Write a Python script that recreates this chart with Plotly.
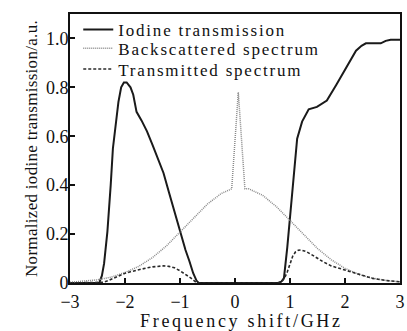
import plotly.graph_objects as go

# Iodine transmission (solid)
iod_x = [-3.0, -2.6, -2.47, -2.42, -2.38, -2.32, -2.28, -2.26, -2.22, -2.17, -2.12, -2.07, -2.02,
         -1.97, -1.90, -1.85, -1.82, -1.79, -1.7, -1.6, -1.5, -1.4, -1.3, -1.2, -1.1, -1.0, -0.9,
         -0.83, -0.76, -0.7, -0.66, 0.0, 0.78, 0.84, 0.89, 0.95, 1.01, 1.06, 1.13, 1.22, 1.34,
         1.49, 1.67, 1.84, 2.02, 2.20, 2.30, 2.38, 2.65, 2.74, 2.83, 3.0]
iod_y = [0.0, 0.0, 0.0, 0.03, 0.08, 0.21, 0.32, 0.40, 0.55, 0.64, 0.74, 0.80, 0.82,
         0.82, 0.80, 0.77, 0.73, 0.70, 0.665, 0.62, 0.565, 0.51, 0.45, 0.37, 0.29, 0.205, 0.135,
         0.09, 0.04, 0.01, 0.0, 0.0, 0.0, 0.005, 0.02, 0.145, 0.295, 0.42, 0.59, 0.66, 0.71,
         0.72, 0.746, 0.81, 0.88, 0.95, 0.97, 0.98, 0.98, 0.99, 0.995, 0.995]

# Backscattered spectrum (dotted)
bs_x = [-3.0, -2.75, -2.5, -2.25, -2.0, -1.75, -1.5, -1.25, -1.0, -0.75, -0.5, -0.25, -0.06,
        0.06, 0.18, 0.25, 0.5, 0.75, 1.0, 1.25, 1.5, 1.75, 2.0, 2.25, 2.5, 2.75, 3.0]
bs_y = [0.003, 0.007, 0.013, 0.024, 0.043, 0.068, 0.104, 0.151, 0.208, 0.268, 0.323, 0.366, 0.385,
        0.78, 0.385, 0.385, 0.359, 0.313, 0.256, 0.196, 0.141, 0.095, 0.060, 0.035, 0.020, 0.010, 0.005]

# Transmitted spectrum (dashed)
tr_x = [-3.0, -2.45, -2.4, -2.3, -2.2, -2.1, -2.0, -1.9, -1.8, -1.7, -1.6, -1.5, -1.4, -1.3,
        -1.2, -1.1, -1.0, -0.9, -0.8, -0.72, -0.68, 0.0, 0.78, 0.85, 0.9, 0.95, 1.0, 1.05, 1.1,
        1.15, 1.2, 1.3, 1.4, 1.5, 1.6, 1.75, 2.0, 2.25, 2.5, 2.75, 3.0]
tr_y = [0.0, 0.0, 0.003, 0.01, 0.02, 0.032, 0.04, 0.046, 0.052, 0.057, 0.062, 0.066, 0.069, 0.07,
        0.068, 0.062, 0.05, 0.036, 0.02, 0.005, 0.0, 0.0, 0.0, 0.005, 0.02, 0.045, 0.08, 0.11, 0.127,
        0.134, 0.135, 0.128, 0.115, 0.1, 0.087, 0.07, 0.053, 0.033, 0.019, 0.01, 0.005]

series_names = ["Iodine transmission", "Backscattered spectrum", "Transmitted spectrum"]

x_ticks = [-3, -2, -1, 0, 1, 2, 3]
x_labels = ["\u22123", "\u22122", "\u22121", "0", "1", "2", "3"]
y_ticks = [0, 0.2, 0.4, 0.6, 0.8, 1.0]
y_labels = ["0", "0.2", "0.4", "0.6", "0.8", "1.0"]
x_title = "Frequency shift/GHz"
y_title = "Normalized iodine transmission/a.u."

FONT = "Liberation Serif, Times New Roman, Times, DejaVu Serif, serif"
INK = "#111111"


def spaced(text, px):
    return '<span style="letter-spacing:%spx">%s</span>' % (px, text)


fig = go.Figure()
fig.add_trace(go.Scatter(x=iod_x, y=iod_y, mode="lines", name=spaced(series_names[0], 1.8),
                         legend="legend", line=dict(color="#1a1a1a", width=2)))
fig.add_trace(go.Scatter(x=bs_x, y=bs_y, mode="lines", name=spaced(series_names[1], 1.8),
                         legend="legend2", line=dict(color="#8a8a8a", width=1.5, dash="1px,1px")))
fig.add_trace(go.Scatter(x=tr_x, y=tr_y, mode="lines", name=spaced(series_names[2], 1.8),
                         legend="legend3", line=dict(color="#2a2a2a", width=1.6, dash="3px,2px")))

legend_style = dict(x=0.025, xanchor="left", yanchor="top", yref="paper", bgcolor="rgba(0,0,0,0)",
                    font=dict(family=FONT, size=17, color=INK), itemwidth=30)

fig.update_layout(
    width=407, height=331,
    margin=dict(l=70, r=2, t=14, b=48),
    paper_bgcolor="white", plot_bgcolor="white",
    font=dict(family=FONT, color=INK, size=16),
    showlegend=True,
    legend=dict(y=1.008, **legend_style),
    legend2=dict(y=0.9375, **legend_style),
    legend3=dict(y=0.861, **legend_style),
    xaxis=dict(range=[-3, 3], tickvals=x_ticks, ticktext=x_labels,
               ticks="inside", ticklen=5, tickwidth=1.5, tickcolor=INK,
               showline=True, linecolor=INK, linewidth=2, mirror=True,
               showgrid=False, zeroline=False, ticklabeloverflow="allow",
               ticklabelstandoff=1,
               tickfont=dict(family=FONT, size=18)),
    yaxis=dict(range=[0, 1.1], tickvals=y_ticks, ticktext=y_labels,
               ticks="inside", ticklen=5, tickwidth=1.5, tickcolor=INK,
               showline=True, linecolor=INK, linewidth=2, mirror=True,
               showgrid=False, zeroline=False,
               ticklabelstandoff=-4,
               tickfont=dict(family=FONT, size=18),
               title=dict(text=spaced(y_title, 0.3), font=dict(family=FONT, size=17), standoff=4)),
    annotations=[dict(text=spaced(x_title, 2.7), xref="paper", yref="paper", x=0.52, y=-0.142,
                      xanchor="center", yanchor="middle", showarrow=False,
                      font=dict(family=FONT, size=18, color=INK))],
)

fig.write_html("out.html")
